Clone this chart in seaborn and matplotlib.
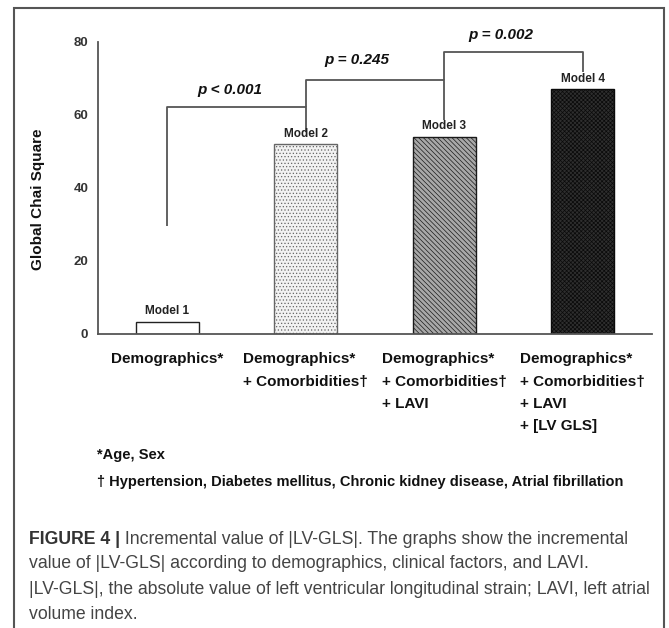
import matplotlib
matplotlib.use("Agg")
import matplotlib.pyplot as plt
import seaborn as sns
import pandas as pd
from matplotlib.patches import Rectangle

# Data
models = ["Model 1", "Model 2", "Model 3", "Model 4"]
chi_square = [3.4, 52.0, 54.0, 67.0]
tick_labels = [
    "Demographics*",
    "Demographics*\n+ Comorbidities\u2020",
    "Demographics*\n+ Comorbidities\u2020\n+ LAVI",
    "Demographics*\n+ Comorbidities\u2020\n+ LAVI\n+ [LV GLS]",
]

# brackets: (left bar, right bar, bar height, left leg end, right leg end)
bracket_left = [0, 1, 2]
bracket_right = [1, 2, 3]
bracket_top = [62.1, 69.4, 77.3]
left_leg_end = [29.6, 62.1, 69.4]
right_leg_end = [55.2, 58.6, 71.8]
p_texts = ["p < 0.001", "p = 0.245", "p = 0.002"]
p_x = [0.45, 1.37, 2.41]
p_y = [66.8, 75.0, 81.8]

footnotes = ["*Age, Sex",
             "\u2020 Hypertension, Diabetes mellitus, Chronic kidney disease, Atrial fibrillation"]
caption_bold = "FIGURE 4 |"
caption_lines = [
    " Incremental value of |LV-GLS|. The graphs show the incremental",
    "value of |LV-GLS| according to demographics, clinical factors, and LAVI.",
    "|LV-GLS|, the absolute value of left ventricular longitudinal strain; LAVI, left atrial",
    "volume index.",
]

df = pd.DataFrame({"label": tick_labels, "value": chi_square, "model": models})

sns.set_style("white")
plt.rcParams["font.family"] = ["Liberation Sans", "DejaVu Sans"]
plt.rcParams["hatch.linewidth"] = 0.5

W, H = 669, 628
fig = plt.figure(figsize=(W / 100, H / 100), dpi=100)
ax = fig.add_axes([98 / W, 1 - 334 / H, 554 / W, 292.3 / H])

sns.barplot(data=df, x="label", y="value", color="white", width=0.455,
            edgecolor="black", linewidth=1.0, ax=ax)

faces = ["white", "#f2f2f2", "#a8a8a8", "#2e2e2e"]
hatches = [None, ".....", "\\\\\\\\\\\\\\", "xxxxxxxx"]
edges = ["#222222", "#666666", "#1a1a1a", "#0a0a0a"]
for patch, fc, h, ec in zip(ax.patches, faces, hatches, edges):
    patch.set_facecolor(fc)
    patch.set_edgecolor(ec)
    if h:
        patch.set_hatch(h)

# model labels above the bars
for i, (m, v) in enumerate(zip(models, chi_square)):
    ax.annotate(m, xy=(i, v), xytext=(0, 7.5), textcoords="offset points",
                ha="center", va="center", fontsize=8.5, fontweight="bold",
                color="#222222")

# significance brackets
line_kw = dict(color="#555555", lw=1.3, solid_capstyle="butt", clip_on=False)
for l, r, t, le, re_ in zip(bracket_left, bracket_right, bracket_top,
                             left_leg_end, right_leg_end):
    ax.plot([l, l, r, r], [le, t, t, re_], **line_kw)
for txt, x, y in zip(p_texts, p_x, p_y):
    ax.text(x, y, txt, ha="center", va="center", fontsize=11,
            fontweight="bold", fontstyle="italic", color="#111111", clip_on=False)

ax.set_xlim(-0.5, 3.5)
ax.set_ylim(0, 80)
ax.set_yticks([0, 20, 40, 60, 80])
ax.set_xlabel("")
ax.set_ylabel("Global Chai Square", fontsize=11, fontweight="bold", color="#111111")
ax.yaxis.set_label_coords(-0.095, 0.462)
sns.despine(ax=ax)
for s in ["left", "bottom"]:
    ax.spines[s].set_color("#555555")
    ax.spines[s].set_linewidth(1.3)
ax.tick_params(axis="y", length=4, width=1.2, color="#555555", pad=3,
               labelsize=9.5, labelcolor="#333333")
ax.tick_params(axis="x", length=0, pad=13.3, labelsize=11, labelcolor="#111111")
for t in ax.get_yticklabels():
    t.set_fontweight("bold")
for t in ax.get_xticklabels():
    t.set_fontweight("bold")
    t.set_multialignment("left")
    t.set_linespacing(1.73)

# footnotes
fig.text(97 / W, 1 - 455 / H, footnotes[0], fontsize=10.5, fontweight="bold",
         va="center", color="#111111")
fig.text(97 / W, 1 - 482 / H, footnotes[1], fontsize=10.5, fontweight="bold",
         va="center", color="#111111")

# caption
cap_y = [537, 562, 587, 612.5]
cap_size = 12.7
bold = fig.text(29 / W, 1 - cap_y[0] / H, caption_bold, fontsize=cap_size,
                fontweight="bold", va="center_baseline", color="#333333")
fig.canvas.draw()
bb = bold.get_window_extent()
fig.text(bb.x1 / W, 1 - cap_y[0] / H, caption_lines[0], fontsize=cap_size,
         va="center_baseline", color="#444444")
for line, y in zip(caption_lines[1:], cap_y[1:]):
    fig.text(29 / W, 1 - y / H, line, fontsize=cap_size, va="center_baseline",
             color="#444444")

# frame around the figure panel
fig.add_artist(Rectangle((14 / W, -0.05), 650 / W, 1.05 - 8.5 / H,
                         transform=fig.transFigure, fill=False,
                         edgecolor="#555555", lw=1.5))

fig.savefig("out.png", dpi=100)
